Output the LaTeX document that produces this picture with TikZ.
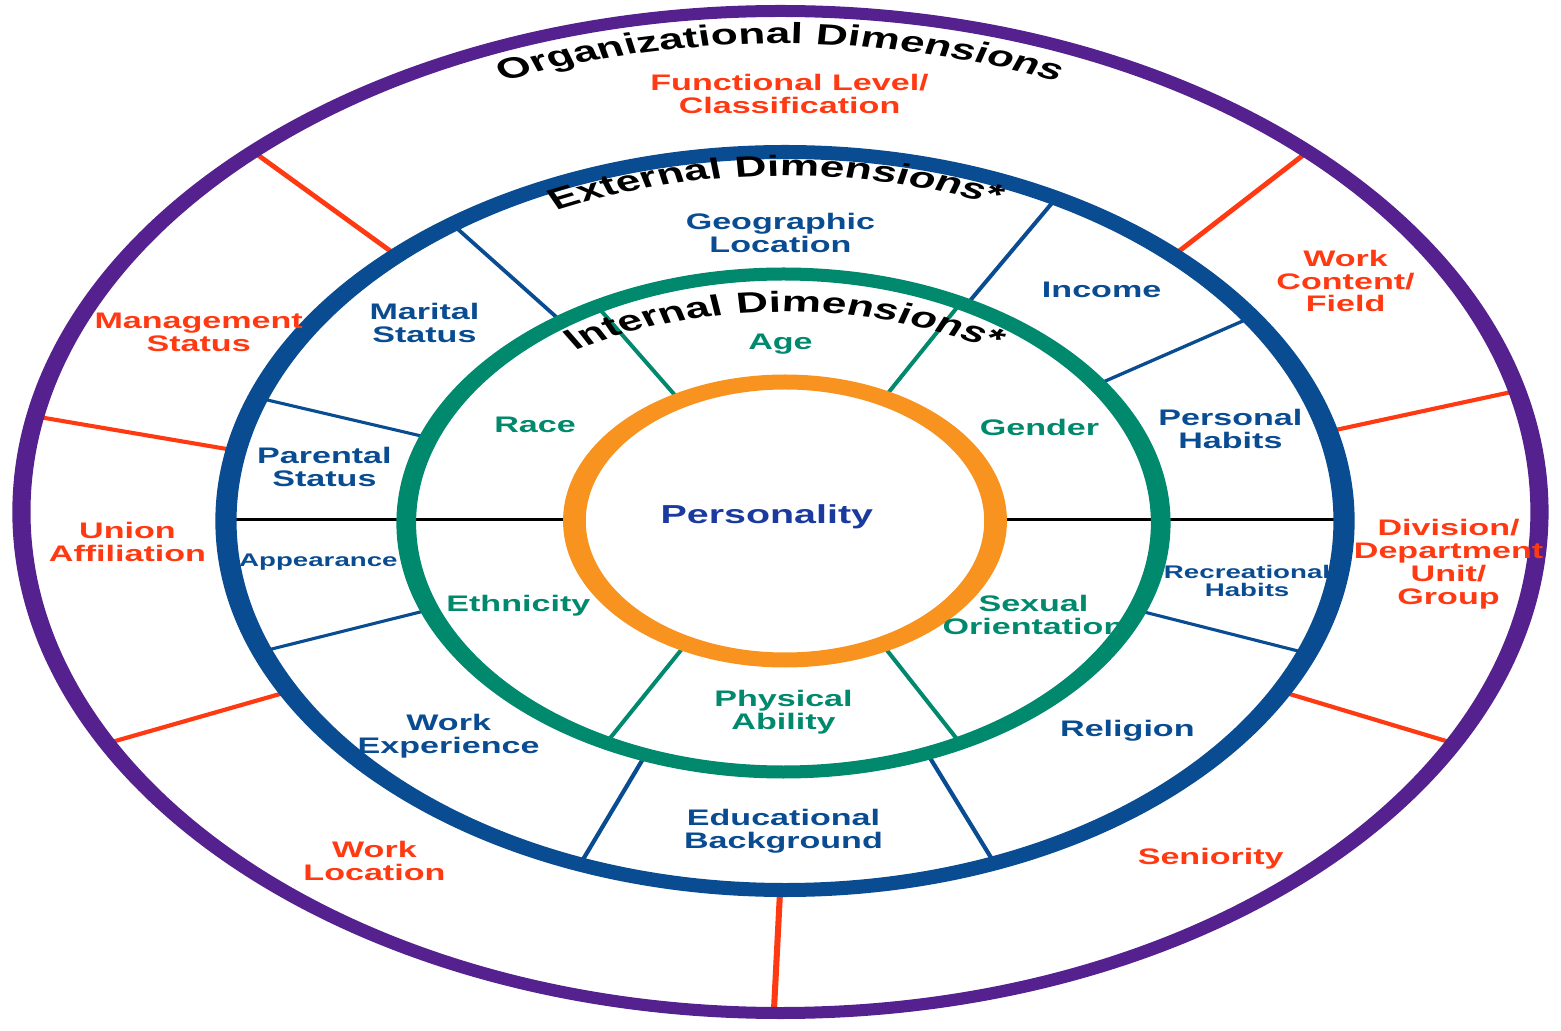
\documentclass[tikz,border=0pt]{standalone}
\usepackage{fontspec}
\setmainfont{Liberation Sans}
\usetikzlibrary{decorations.text}

\definecolor{orgpurple}{HTML}{55218F}
\definecolor{extblue}{HTML}{0A4C92}
\definecolor{intgreen}{HTML}{00896D}
\definecolor{coreorange}{HTML}{F7931E}
\definecolor{orgred}{HTML}{FF3A12}
\definecolor{coreblue}{HTML}{1A3AA0}

\newcommand\titlefont{\bfseries\fontsize{8.3}{10}\selectfont}

\begin{document}
\begin{tikzpicture}[x=0.1mm, y=0.1mm,
    lbl/.style={font=\bfseries\fontsize{6.4}{6.5}\selectfont, align=center, inner sep=0pt},
    org/.style={lbl, text=orgred},
    ext/.style={lbl, text=extblue},
    int/.style={lbl, text=intgreen},
    title/.style={decorate, decoration={text along path, text align=center, text={|\titlefont|#1}}}]
  \useasboundingbox (-785,-509) rectangle (776,521);
  \begin{scope}[transform canvas={xscale=1.515}]
    % organizational spokes
    \begin{scope}[orgred, line width=0.4mm]
      \draw (134:369) -- ([shift={(-3,9)}]134:501);
      \draw (46:369) -- ([shift={(-3,9)}]46:501);
      \draw (169:369) -- ([shift={(-3,9)}]169:501);
      \draw (14:369) -- ([shift={(-3,9)}]14:501);
      \draw (207.5:369) -- ([shift={(-3,9)}]207.5:501);
      \draw (332.5:369) -- ([shift={(-3,9)}]332.5:501);
      \draw (269.5:369) -- ([shift={(-3,9)}]269.5:501);
    \end{scope}
    % external spokes
    \begin{scope}[extblue, line width=0.3mm]
      \draw (126.5:249) -- (126.5:369);
      \draw (61:249) -- (61:369);
      \draw (160.5:249) -- (160.5:369);
      \draw (33.5:249) -- (33.5:369);
      \draw (200.7:249) -- (200.7:369);
      \draw (339:249) -- (339:369);
      \draw (248.5:249) -- (248.5:369);
      \draw (292:249) -- (292:369);
    \end{scope}
    % internal spokes
    \begin{scope}[intgreen, line width=0.3mm]
      \draw (120:139) -- (120:249);
      \draw (62:139) -- (62:249);
      \draw (242:139) -- (242:249);
      \draw (297.5:139) -- (297.5:249);
    \end{scope}
    % split line
    \draw[line width=0.3mm] (-369,1) -- (-139,1);
    \draw[line width=0.3mm] (139,1) -- (369,1);
    % rings
    \draw[orgpurple, line width=1.2mm] (-3,9) circle[radius=501];
    \draw[extblue, line width=1.4mm] (0,0) circle[radius=369];
    \draw[intgreen, line width=1.3mm] (-1,-2) circle[radius=249];
    \draw[coreorange, line width=1.5mm] (0,0) circle[radius=139];
    % ring titles
    \path[title=Organizational Dimensions] ([shift={(-3,9)}]160:468) arc[start angle=160, end angle=20, radius=468];
    \path[title=External Dimensions*] (161:345) arc[start angle=161, end angle=21, radius=345];
    \path[title=Internal Dimensions*] ([shift={(0,-59)}]150:268) arc[start angle=150, end angle=30, radius=268];
    % organizational
    \node[org] (funclevel) at (3,427) {Functional Level/\\Classification};
    \node[org] (mgmt) at (-387,189) {Management\\Status};
    \node[org] (workcontent) at (370,240) {Work\\Content/\\Field};
    \node[org] (union) at (-434,-21) {Union\\Affiliation};
    \node[org] (division) at (438,-43) {Division/\\Department\\Unit/\\Group};
    \node[org] (workloc) at (-271,-340) {Work\\Location};
    \node[org] (seniority) at (281,-338) {Seniority};
    % external
    \node[ext] (geo) at (-3,288) {Geographic\\Location};
    \node[ext] (income) at (209,231) {Income};
    \node[ext] (marital) at (-238,198) {Marital\\Status};
    \node[ext] (personal) at (294,92) {Personal\\Habits};
    \node[ext] (parental) at (-304,54) {Parental\\Status};
    \node[ext, font=\bfseries\fontsize{5.2}{5.1}\selectfont] (appearance) at (-308,-41) {Appearance};
    \node[ext, font=\bfseries\fontsize{5.2}{5.1}\selectfont] (recreation) at (305,-60) {Recreational\\Habits};
    \node[ext] (workexp) at (-222,-215) {Work\\Experience};
    \node[ext] (religion) at (226,-210) {Religion};
    \node[ext] (education) at (-1,-310) {Educational\\Background};
    % internal
    \node[int] (age) at (-3,177) {Age};
    \node[int] (race) at (-165,96) {Race};
    \node[int] (gender) at (168,94) {Gender};
    \node[int] (ethnicity) at (-176,-85) {Ethnicity};
    \node[int] (sexual) at (164,-94) {Sexual\\Orientation};
    \node[int] (physical) at (-1,-191) {Physical\\Ability};
    % core
    \node[lbl, text=coreblue, font=\bfseries\fontsize{7.4}{8}\selectfont] (personality) at (-12,4) {Personality};
  \end{scope}
\end{tikzpicture}
\end{document}
